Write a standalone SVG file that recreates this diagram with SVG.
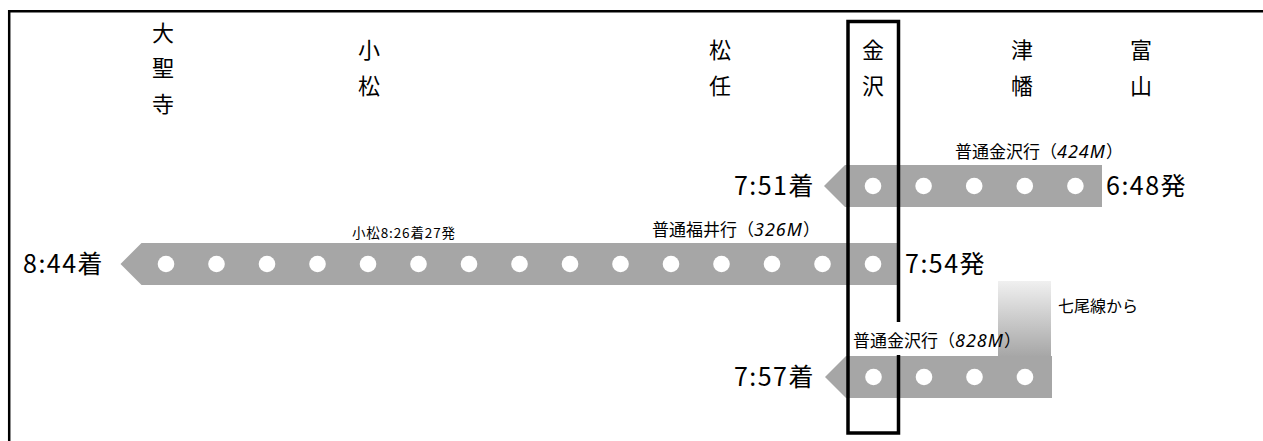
<svg xmlns="http://www.w3.org/2000/svg" width="1263" height="441" viewBox="0 0 1263 441">
<defs>
<style>
.bar{fill:#a6a6a6}
.dot{fill:#ffffff}
.st{font-family:"Noto Sans CJK JP","Noto Sans",sans-serif;font-size:22px;fill:#000;text-anchor:middle}
.tm{font-family:"Noto Sans CJK JP","Noto Sans",sans-serif;font-size:25px;fill:#000;letter-spacing:1.5px}
.lb{font-family:"Noto Sans CJK JP","Noto Sans",sans-serif;font-size:17px;fill:#000}
.sm{font-family:"Noto Sans CJK JP","Noto Sans",sans-serif;font-size:13.5px;fill:#000}
.it{font-family:"Noto Sans","Noto Sans CJK JP",sans-serif;font-style:italic;font-size:18px;letter-spacing:1px}
.frame{fill:none;stroke:#000;stroke-width:2.5}
.box{fill:none;stroke:#000;stroke-width:3.5}
</style>
<linearGradient id="fade" x1="0" y1="0" x2="0" y2="1">
<stop offset="0" stop-color="#f0f0f0"/>
<stop offset="1" stop-color="#a6a6a6"/>
</linearGradient>
</defs>
<rect width="1263" height="441" fill="#fff"/>
<path class="frame" d="M9.2,441 V11.2 H1263"/>

<g id="stations">
<g id="st-daishoji"><text class="st" x="163" y="41">大</text><text class="st" x="163" y="76">聖</text><text class="st" x="163" y="112">寺</text></g>
<g id="st-komatsu"><text class="st" x="369" y="58">小</text><text class="st" x="369" y="94">松</text></g>
<g id="st-matto"><text class="st" x="720" y="58">松</text><text class="st" x="720" y="94">任</text></g>
<g id="st-kanazawa"><text class="st" x="873" y="58">金</text><text class="st" x="873" y="94">沢</text></g>
<g id="st-tsubata"><text class="st" x="1022" y="58">津</text><text class="st" x="1022" y="94">幡</text></g>
<g id="st-toyama"><text class="st" x="1141" y="58">富</text><text class="st" x="1141" y="94">山</text></g>
</g>

<g id="train-424M">
<path class="bar" d="M824,186 L845,165 H1102 V207 H845 Z"/>
<circle class="dot" cx="873" cy="186" r="8.3"/>
<circle class="dot" cx="923.6" cy="186" r="8.3"/>
<circle class="dot" cx="974.2" cy="186" r="8.3"/>
<circle class="dot" cx="1024.8" cy="186" r="8.3"/>
<circle class="dot" cx="1075.4" cy="186" r="8.3"/>
</g>

<g id="train-326M">
<path class="bar" d="M120.5,264 L141.5,243 H898 V285 H141.5 Z"/>
<circle class="dot" cx="166" cy="264" r="8.3"/>
<circle class="dot" cx="216.5" cy="264" r="8.3"/>
<circle class="dot" cx="267" cy="264" r="8.3"/>
<circle class="dot" cx="317.5" cy="264" r="8.3"/>
<circle class="dot" cx="368" cy="264" r="8.3"/>
<circle class="dot" cx="418.5" cy="264" r="8.3"/>
<circle class="dot" cx="469" cy="264" r="8.3"/>
<circle class="dot" cx="519.5" cy="264" r="8.3"/>
<circle class="dot" cx="570" cy="264" r="8.3"/>
<circle class="dot" cx="620.5" cy="264" r="8.3"/>
<circle class="dot" cx="671" cy="264" r="8.3"/>
<circle class="dot" cx="721.5" cy="264" r="8.3"/>
<circle class="dot" cx="772" cy="264" r="8.3"/>
<circle class="dot" cx="822.5" cy="264" r="8.3"/>
<circle class="dot" cx="873" cy="264" r="8.3"/>
</g>

<g id="train-828M">
<rect x="998" y="281" width="53" height="76" fill="url(#fade)"/>
<path class="bar" d="M825,377 L846,356 H1052 V398 H846 Z"/>
<circle class="dot" cx="873.5" cy="377" r="8.3"/>
<circle class="dot" cx="924" cy="377" r="8.3"/>
<circle class="dot" cx="974.5" cy="377" r="8.3"/>
<circle class="dot" cx="1025" cy="377" r="8.3"/>
</g>

<g id="connectors">
<rect id="kanazawa-box" class="box" x="848" y="21.5" width="50.5" height="411.5"/>
</g>

<g id="labels">
<text class="lb" x="955" y="158">普通金沢行（<tspan class="it">424M</tspan>）</text>
<text class="tm" x="815" y="195" text-anchor="end">7:51着</text>
<text class="tm" x="1106" y="195">6:48発</text>
<text class="sm" x="352" y="238" textLength="103" lengthAdjust="spacing">小松8:26着27発</text>
<text class="lb" x="652" y="236">普通福井行（<tspan class="it">326M</tspan>）</text>
<text class="tm" x="23" y="273">8:44着</text>
<text class="tm" x="905" y="273">7:54発</text>
<text class="lb" x="1058" y="312" style="font-size:16px">七尾線から</text>
<rect x="850" y="322" width="147" height="33" fill="#fff"/>
<text class="lb" x="853" y="347">普通金沢行（<tspan class="it">828M</tspan>）</text>
<text class="tm" x="815" y="386" text-anchor="end">7:57着</text>
</g>
</svg>
